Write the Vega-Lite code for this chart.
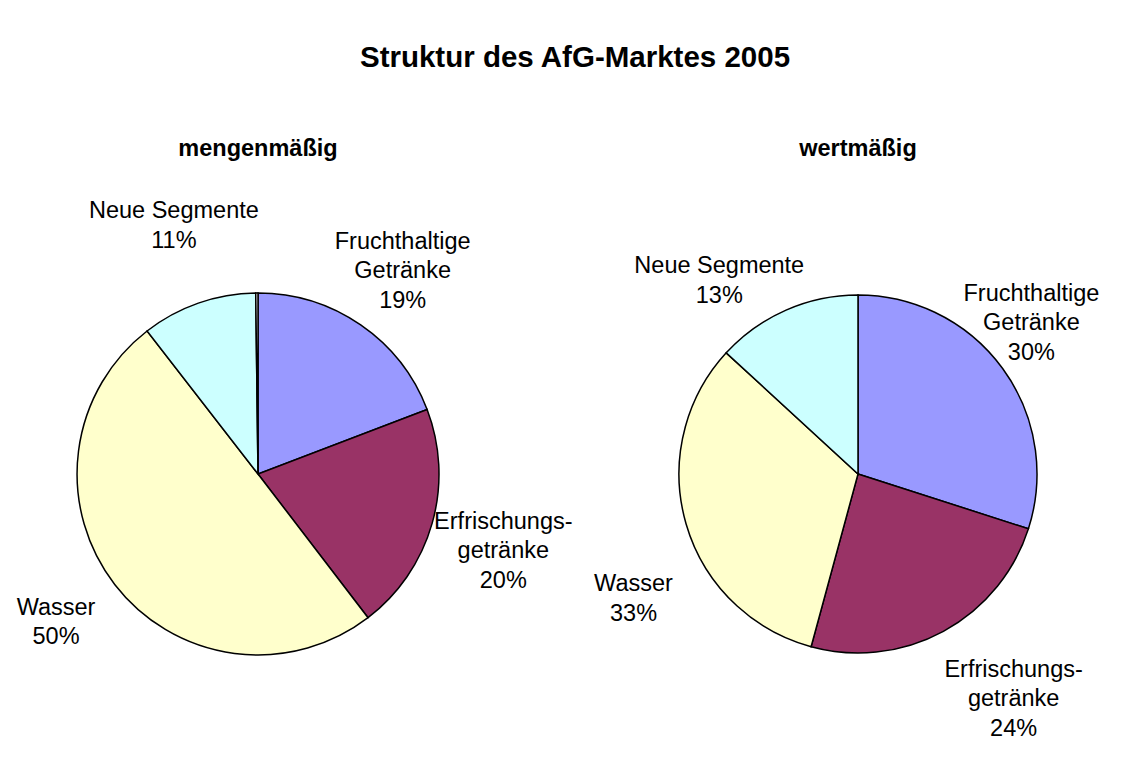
{
  "$schema": "https://vega.github.io/schema/vega-lite/v6.json",
  "padding": {"left": 8, "top": 43, "right": 0, "bottom": 0},
  "background": "white",
  "bounds": "flush",
  "title": {
    "text": "Struktur des AfG-Marktes 2005",
    "font": "Liberation Sans",
    "fontSize": 29.5,
    "fontWeight": "bold",
    "color": "black",
    "anchor": "middle",
    "baseline": "alphabetic",
    "dx": 7,
    "offset": 40
  },
  "data": {
    "values": [
      {"chart": "mengenmäßig", "category": "Fruchthaltige Getränke", "value": 19.2, "order": 1, "label": "Fruchthaltige\nGetränke\n19%"},
      {"chart": "mengenmäßig", "category": "Erfrischungsgetränke", "value": 20.4, "order": 2, "label": "Erfrischungs-\ngetränke\n20%"},
      {"chart": "mengenmäßig", "category": "Wasser", "value": 49.9, "order": 3, "label": "Wasser\n50%"},
      {"chart": "mengenmäßig", "category": "Neue Segmente", "value": 10.3, "order": 4, "label": "Neue Segmente\n11%"},
      {"chart": "mengenmäßig", "category": "Sonstige", "value": 0.2, "order": 5, "label": ""},
      {"chart": "wertmäßig", "category": "Fruchthaltige Getränke", "value": 29.95, "order": 1, "label": "Fruchthaltige\nGetränke\n30%"},
      {"chart": "wertmäßig", "category": "Erfrischungsgetränke", "value": 24.27, "order": 2, "label": "Erfrischungs-\ngetränke\n24%"},
      {"chart": "wertmäßig", "category": "Wasser", "value": 32.61, "order": 3, "label": "Wasser\n33%"},
      {"chart": "wertmäßig", "category": "Neue Segmente", "value": 13.17, "order": 4, "label": "Neue Segmente\n13%"}
    ]
  },
  "spacing": 80,
  "hconcat": [
    {
      "width": 500,
      "height": 580,
      "title": {"text": "mengenmäßig", "font": "Liberation Sans", "fontSize": 23.5, "fontWeight": "bold", "color": "black", "baseline": "alphabetic", "offset": 5},
      "transform": [{"filter": {"field": "chart", "equal": "mengenmäßig"}}],
      "layer": [
        {
          "mark": {"type": "arc", "outerRadius": 181, "stroke": "black", "strokeWidth": 1.5},
          "encoding": {
            "theta": {"field": "value", "type": "quantitative", "stack": true},
            "order": {"field": "order", "type": "quantitative"},
            "color": {
              "field": "category", "type": "nominal", "legend": null,
              "scale": {
                "domain": ["Fruchthaltige Getränke", "Erfrischungsgetränke", "Wasser", "Neue Segmente", "Sonstige"],
                "range": ["#9999FF", "#993366", "#FFFFCC", "#CCFFFF", "#FFFFFF"]
              }
            }
          }
        },
        {
          "mark": {"type": "text", "radius": 255, "dy": -22, "font": "Liberation Sans", "fontSize": 23.5, "color": "black", "align": "center", "baseline": "middle", "lineBreak": "\n", "lineHeight": 29.5},
          "encoding": {
            "theta": {"field": "value", "type": "quantitative", "stack": true},
            "order": {"field": "order", "type": "quantitative"},
            "detail": {"field": "category", "type": "nominal"},
            "text": {"field": "label", "type": "nominal"}
          }
        }
      ]
    },
    {
      "width": 540,
      "height": 580,
      "title": {"text": "wertmäßig", "font": "Liberation Sans", "fontSize": 23.5, "fontWeight": "bold", "color": "black", "baseline": "alphabetic", "offset": 5},
      "transform": [{"filter": {"field": "chart", "equal": "wertmäßig"}}],
      "resolve": {"scale": {"theta": "independent"}},
      "layer": [
        {
          "mark": {"type": "arc", "outerRadius": 179, "stroke": "black", "strokeWidth": 1.5},
          "encoding": {
            "theta": {"field": "value", "type": "quantitative", "stack": true},
            "order": {"field": "order", "type": "quantitative"},
            "color": {
              "field": "category", "type": "nominal", "legend": null,
              "scale": {
                "domain": ["Fruchthaltige Getränke", "Erfrischungsgetränke", "Wasser", "Neue Segmente", "Sonstige"],
                "range": ["#9999FF", "#993366", "#FFFFCC", "#CCFFFF", "#FFFFFF"]
              }
            }
          }
        },
        {
          "mark": {"type": "text", "radius": 250, "font": "Liberation Sans", "fontSize": 23.5, "color": "black", "align": "center", "baseline": "middle", "lineBreak": "\n", "lineHeight": 29.5},
          "encoding": {
            "theta": {"field": "value", "type": "quantitative", "stack": true, "scale": {"domain": [0, 100], "range": [-0.1745, 6.1087]}},
            "order": {"field": "order", "type": "quantitative"},
            "detail": {"field": "category", "type": "nominal"},
            "text": {"field": "label", "type": "nominal"}
          }
        }
      ]
    }
  ],
  "config": {
    "view": {"stroke": null}
  }
}
